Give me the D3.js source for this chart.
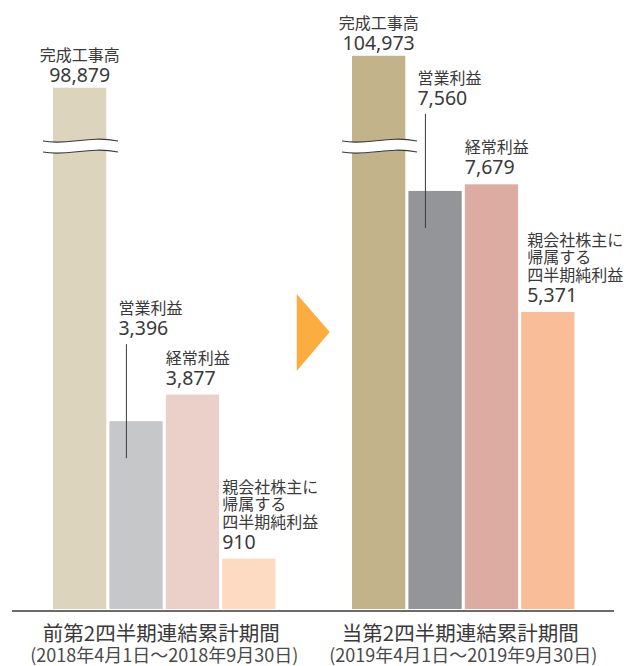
<!DOCTYPE html>
<html>
<head>
<meta charset="utf-8">
<script src="https://cdn.jsdelivr.net/npm/d3@7"></script>
<style>
  html, body { margin: 0; padding: 0; background: #fff; }
  svg { display: block; }
  text { font-family: "Noto Sans", "Noto Sans CJK JP", sans-serif; fill: #3a3a3a; }
</style>
</head>
<body>
<svg id="chart" width="626" height="666"></svg>
<script>
// data
const categories = ["完成工事高", "営業利益", "経常利益", "親会社株主に帰属する四半期純利益"];
const labelLines = [["完成工事高"], ["営業利益"], ["経常利益"], ["親会社株主に", "帰属する", "四半期純利益"]];
const periods = ["前第2四半期連結累計期間", "当第2四半期連結累計期間"];
const periodRanges = ["(2018年4月1日～2018年9月30日)", "(2019年4月1日～2019年9月30日)"];
const prevValues = [98879, 3396, 3877, 910];
const currValues = [104973, 7560, 7679, 5371];

const colors = [
  ["#dcd4bd", "#c6c7c9", "#ebd0c9", "#fddbc3"],
  ["#c2b38b", "#939598", "#dcaba2", "#f9bd97"],
];

const svg = d3.select("#chart");
const baseline = 609;

// broken y scale: lower part for the profit figures, compressed upper part for sales
const y = d3.scaleLinear()
  .domain([0, 8300, 87000, 120000])
  .range([baseline, 150, 150, -23]);

const x0 = d3.scaleBand()
  .domain(periods)
  .range([53, 574.5])
  .paddingInner(0.256)
  .paddingOuter(0);

const x1 = d3.scaleBand()
  .domain(categories)
  .range([0, x0.bandwidth()])
  .paddingInner(0.055)
  .paddingOuter(0);

const groups = periods.map((p, i) => ({
  period: p,
  range: periodRanges[i],
  bars: categories.map((c, j) => ({
    category: c,
    lines: labelLines[j],
    value: (i === 0 ? prevValues : currValues)[j],
    color: colors[i][j],
    idx: j,
    // last label of the second period sits a bit to the right
    shift: i === 1 && j === 3 ? 6 : 0,
  })),
}));

const fmt = d3.format(",");

// baseline
svg.append("line")
  .attr("x1", 12).attr("x2", 614)
  .attr("y1", baseline + 2).attr("y2", baseline + 2)
  .attr("stroke", "#3a3a3a")
  .attr("stroke-width", 1.4);

const g = svg.selectAll("g.period")
  .data(groups)
  .join("g")
  .attr("class", "period")
  .attr("transform", (d) => `translate(${x0(d.period)},0)`);

// bars
g.selectAll("rect.bar")
  .data((d) => d.bars)
  .join("rect")
  .attr("class", "bar")
  .attr("x", (d) => x1(d.category))
  .attr("y", (d) => y(d.value))
  .attr("width", x1.bandwidth())
  .attr("height", (d) => baseline - y(d.value))
  .attr("fill", (d) => d.color);

// break marks on the sales bar
const breakY = 141;
g.each(function () {
  const bx = x1(categories[0]);
  const wave = (yy) =>
    `M${bx - 10},${yy} C${bx + 15},${yy + 5} ${bx + 35},${yy - 6} ${bx + 65},${yy}`;
  const waveBack = (yy) =>
    `C${bx + 35},${yy - 6} ${bx + 15},${yy + 5} ${bx - 10},${yy}`;
  const sel = d3.select(this);
  sel.append("path")
    .attr("d", wave(breakY) + ` L${bx + 65},${breakY + 11} ` + waveBack(breakY + 11) + " Z")
    .attr("fill", "#fff");
  [breakY, breakY + 11].forEach((yy) => {
    sel.append("path")
      .attr("d", wave(yy))
      .attr("fill", "none")
      .attr("stroke", "#3a3a3a")
      .attr("stroke-width", 1.1);
  });
});

// labels: one text block per bar (name lines + value)
g.each(function (grp) {
  const sel = d3.select(this);
  grp.bars.forEach((b) => {
    const top = y(b.value);
    const bx = x1(b.category);
    let valueY, anchor, tx;
    if (b.idx === 0) {
      valueY = top - 6;
      anchor = "middle";
      tx = bx + x1.bandwidth() / 2;
    } else if (b.idx === 1) {
      valueY = top - 86;
      anchor = "start";
      tx = bx + 9;
      sel.append("line")
        .attr("x1", bx + 17).attr("x2", bx + 17)
        .attr("y1", top - 77).attr("y2", top + 37)
        .attr("stroke", "#3a3a3a")
        .attr("stroke-width", 1);
    } else {
      valueY = top - 10;
      anchor = "start";
      tx = bx + b.shift;
    }
    const n = b.lines.length;
    const t = sel.append("text")
      .attr("x", tx)
      .attr("y", valueY - 21 - (n - 1) * 17.5)
      .attr("text-anchor", anchor);
    b.lines.forEach((ln, k) => {
      t.append("tspan")
        .attr("x", tx)
        .attr("dy", k === 0 ? 0 : 17.5)
        .style("font-family", "'Noto Sans CJK JP', sans-serif")
        .style("font-size", "16px")
        .text(ln);
    });
    t.append("tspan")
      .attr("x", tx)
      .attr("dy", 21)
      .style("font-size", "19.5px")
      .text(fmt(b.value));
  });

  // period titles
  const cx = x0.bandwidth() / 2;
  const title = sel.append("text")
    .attr("x", cx - 3).attr("y", baseline + 32)
    .attr("text-anchor", "middle")
    .style("font-family", "'Noto Sans CJK JP', sans-serif");
  title.append("tspan")
    .style("font-size", "20.5px")
    .text(grp.period);
  title.append("tspan")
    .attr("x", cx)
    .attr("dy", 21)
    .style("font-size", "18px")
    .style("fill", "#4a4a4a")
    .text(grp.range);
});

// arrow between the two periods
const leftEnd = x0(periods[0]) + x0.bandwidth();
const rightStart = x0(periods[1]);
const ax = (leftEnd + rightStart) / 2;
const ay = 332;
svg.append("path")
  .attr("d", `M${ax - 17},${ay - 38} L${ax + 16},${ay} L${ax - 17},${ay + 39} Z`)
  .attr("fill", "#fbae3f");
</script>
</body>
</html>
